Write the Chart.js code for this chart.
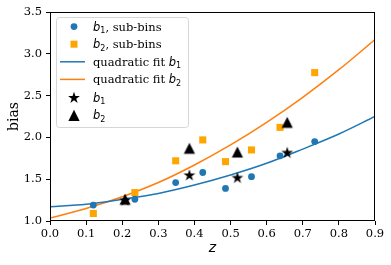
<!DOCTYPE html>
<html>
<head>
<meta charset="UTF-8" />
<title>bias vs z</title>
<style>
  html, body { margin: 0; padding: 0; background: #fff; }
  #wrap { width: 391px; height: 265px; }
</style>
</head>
<body>
<div id="wrap"><canvas id="biasChart" width="391" height="265"></canvas></div>
<script src="https://cdn.jsdelivr.net/npm/chart.js"></script>
<script>
  // values
  const subZ = [0.12, 0.235, 0.348, 0.423, 0.486, 0.558, 0.637, 0.733];
  const b1Sub = [1.19, 1.26, 1.46, 1.58, 1.39, 1.53, 1.78, 1.95];
  const b2Sub = [1.09, 1.34, 1.72, 1.97, 1.71, 1.85, 2.12, 2.775];

  const binZ = [0.208, 0.386, 0.519, 0.657];
  const b1Bin = [1.25, 1.55, 1.52, 1.82];
  const b2Bin = [1.26, 1.87, 1.825, 2.18];

  const fitZ = [0.0, 0.1, 0.2, 0.3, 0.4, 0.5, 0.6, 0.7, 0.8, 0.9];
  const fitB1 = [1.17, 1.20, 1.26, 1.33, 1.43, 1.55, 1.69, 1.86, 2.04, 2.25];
  const fitB2 = [1.035, 1.15, 1.29, 1.46, 1.67, 1.91, 2.18, 2.48, 2.81, 3.17];

  const zTicks = [0.0, 0.1, 0.2, 0.3, 0.4, 0.5, 0.6, 0.7, 0.8, 0.9];
  const biasTicks = [1.0, 1.5, 2.0, 2.5, 3.0, 3.5];

  const BLUE = "#1f77b4";
  const ORANGE = "#ff7f0e";
  const SQUARE = "#ffa500";
  const SERIF = "'DejaVu Serif', serif";
  const MATH = "'DejaVu Sans', sans-serif";

  function pts(xs, ys) {
    return xs.map((x, i) => ({ x: x, y: ys[i] }));
  }

  function starPath(ctx, cx, cy, r) {
    const inner = r * 0.382;
    ctx.beginPath();
    for (let i = 0; i < 10; i++) {
      const rr = i % 2 === 0 ? r : inner;
      const a = -Math.PI / 2 + i * Math.PI / 5;
      const px = cx + rr * Math.cos(a), py = cy + rr * Math.sin(a);
      if (i === 0) ctx.moveTo(px, py); else ctx.lineTo(px, py);
    }
    ctx.closePath();
  }

  function triPath(ctx, cx, cy, h) {
    ctx.beginPath();
    ctx.moveTo(cx, cy - h);
    ctx.lineTo(cx - h, cy + h);
    ctx.lineTo(cx + h, cy + h);
    ctx.closePath();
  }

  function makeMarker(kind) {
    const c = document.createElement("canvas");
    c.width = 14; c.height = 14;
    const g = c.getContext("2d");
    g.fillStyle = "#000";
    if (kind === "star") starPath(g, 7, 7.4, 6.2);
    else triPath(g, 7, 7, 5.6);
    g.fill();
    return c;
  }
  const starImg = makeMarker("star");
  const triImg = makeMarker("tri");

  // box around the axes + legend
  const framePlugin = {
    id: "frame",
    afterDraw(chart) {
      const { ctx, chartArea: a } = chart;
      ctx.save();
      ctx.strokeStyle = "#000";
      ctx.lineWidth = 1;
      ctx.strokeRect(Math.round(a.left) + 0.5, Math.round(a.top) + 0.5,
        Math.round(a.right - a.left) - 1, Math.round(a.bottom - a.top) - 1);

      // legend
      const lx = 56, ly = 17, lw = 132, lh = 110;
      ctx.beginPath();
      ctx.roundRect(lx + 0.5, ly + 0.5, lw, lh, 3);
      ctx.fillStyle = "rgba(255,255,255,0.8)";
      ctx.fill();
      ctx.strokeStyle = "#d6d6d6";
      ctx.stroke();

      const mx = 74, tx = 93;
      const rows = [26.6, 44.2, 61.8, 79.4, 97.6, 115.3];
      const fs = 11.5;
      const drawLabel = (y, sub, rest) => {
        ctx.fillStyle = "#000";
        ctx.textBaseline = "alphabetic";
        ctx.textAlign = "left";
        let x = tx;
        const base = y + 4;
        if (rest.pre) {
          ctx.font = fs + "px " + SERIF;
          ctx.fillText(rest.pre, x, base);
          x += ctx.measureText(rest.pre).width;
        }
        ctx.font = "italic " + fs + "px " + MATH;
        ctx.fillText("b", x, base);
        x += ctx.measureText("b").width;
        ctx.font = "8px " + MATH;
        ctx.fillText(sub, x, base + 2.5);
        x += ctx.measureText(sub).width;
        if (rest.post) {
          ctx.font = fs + "px " + SERIF;
          ctx.fillText(rest.post, x, base);
        }
      };

      ctx.fillStyle = BLUE;
      ctx.beginPath(); ctx.arc(mx, rows[0], 3.4, 0, Math.PI * 2); ctx.fill();
      drawLabel(rows[0], "1", { post: ", sub-bins" });

      ctx.fillStyle = SQUARE;
      ctx.fillRect(mx - 3.5, rows[1] - 3.5, 7, 7);
      drawLabel(rows[1], "2", { post: ", sub-bins" });

      ctx.lineWidth = 1.5;
      ctx.strokeStyle = BLUE;
      ctx.beginPath(); ctx.moveTo(60, rows[2]); ctx.lineTo(85, rows[2]); ctx.stroke();
      drawLabel(rows[2], "1", { pre: "quadratic fit " });

      ctx.strokeStyle = ORANGE;
      ctx.beginPath(); ctx.moveTo(60, rows[3]); ctx.lineTo(85, rows[3]); ctx.stroke();
      drawLabel(rows[3], "2", { pre: "quadratic fit " });

      ctx.fillStyle = "#000";
      starPath(ctx, mx, rows[4] + 0.4, 6.2); ctx.fill();
      drawLabel(rows[4], "1", {});

      ctx.fillStyle = "#000";
      triPath(ctx, mx, rows[5], 5.6); ctx.fill();
      drawLabel(rows[5], "2", {});
      ctx.restore();
    }
  };

  const ctx = document.getElementById("biasChart").getContext("2d");
  new Chart(ctx, {
    type: "scatter",
    data: {
      datasets: [
        {
          label: "b1, sub-bins", data: pts(subZ, b1Sub),
          pointStyle: "circle", pointRadius: 3.4, backgroundColor: BLUE,
          borderWidth: 0, order: 3
        },
        {
          label: "b2, sub-bins", data: pts(subZ, b2Sub),
          pointStyle: "rect", pointRadius: 5, backgroundColor: SQUARE,
          borderWidth: 0, order: 3
        },
        {
          type: "line", label: "quadratic fit b1", data: pts(fitZ, fitB1),
          borderColor: BLUE, borderWidth: 1.5, pointRadius: 0, fill: false,
          cubicInterpolationMode: "monotone", order: 4
        },
        {
          type: "line", label: "quadratic fit b2", data: pts(fitZ, fitB2),
          borderColor: ORANGE, borderWidth: 1.5, pointRadius: 0, fill: false,
          cubicInterpolationMode: "monotone", order: 4
        },
        {
          label: "b1", data: pts(binZ, b1Bin), pointStyle: starImg,
          pointRadius: 6, order: 2
        },
        {
          label: "b2", data: pts(binZ, b2Bin), pointStyle: triImg,
          pointRadius: 6, order: 1
        }
      ]
    },
    options: {
      responsive: false,
      animation: false,
      events: [],
      layout: { padding: { left: 0, top: 12, right: 16, bottom: 0 } },
      plugins: { legend: { display: false }, tooltip: { enabled: false } },
      scales: {
        x: {
          type: "linear", min: 0, max: 0.9,
          afterFit(s) { s.height = 44; },
          afterBuildTicks(s) { s.ticks = zTicks.map(v => ({ value: v })); },
          border: { display: false },
          grid: { drawOnChartArea: false, drawTicks: true, tickLength: 4, color: "#000" },
          ticks: {
            color: "#000", padding: 2, maxRotation: 0,
            font: { family: SERIF, size: 11.5 },
            callback: v => Number(v).toFixed(1)
          },
          title: {
            display: true, text: "z", color: "#000",
            font: { family: MATH, size: 14, style: "italic" },
            padding: { top: 0, bottom: 8 }
          }
        },
        y: {
          type: "linear", min: 1, max: 3.5,
          afterFit(s) { s.width = 50; },
          afterBuildTicks(s) { s.ticks = biasTicks.map(v => ({ value: v })); },
          border: { display: false },
          grid: { drawOnChartArea: false, drawTicks: true, tickLength: 4, color: "#000" },
          ticks: {
            color: "#000", padding: 4,
            font: { family: SERIF, size: 11.5 },
            callback: v => Number(v).toFixed(1)
          },
          title: {
            display: true, text: "bias", color: "#000",
            font: { family: SERIF, size: 14 },
            padding: { top: 6, bottom: 0 }
          }
        }
      }
    },
    plugins: [framePlugin]
  });
</script>
</body>
</html>
